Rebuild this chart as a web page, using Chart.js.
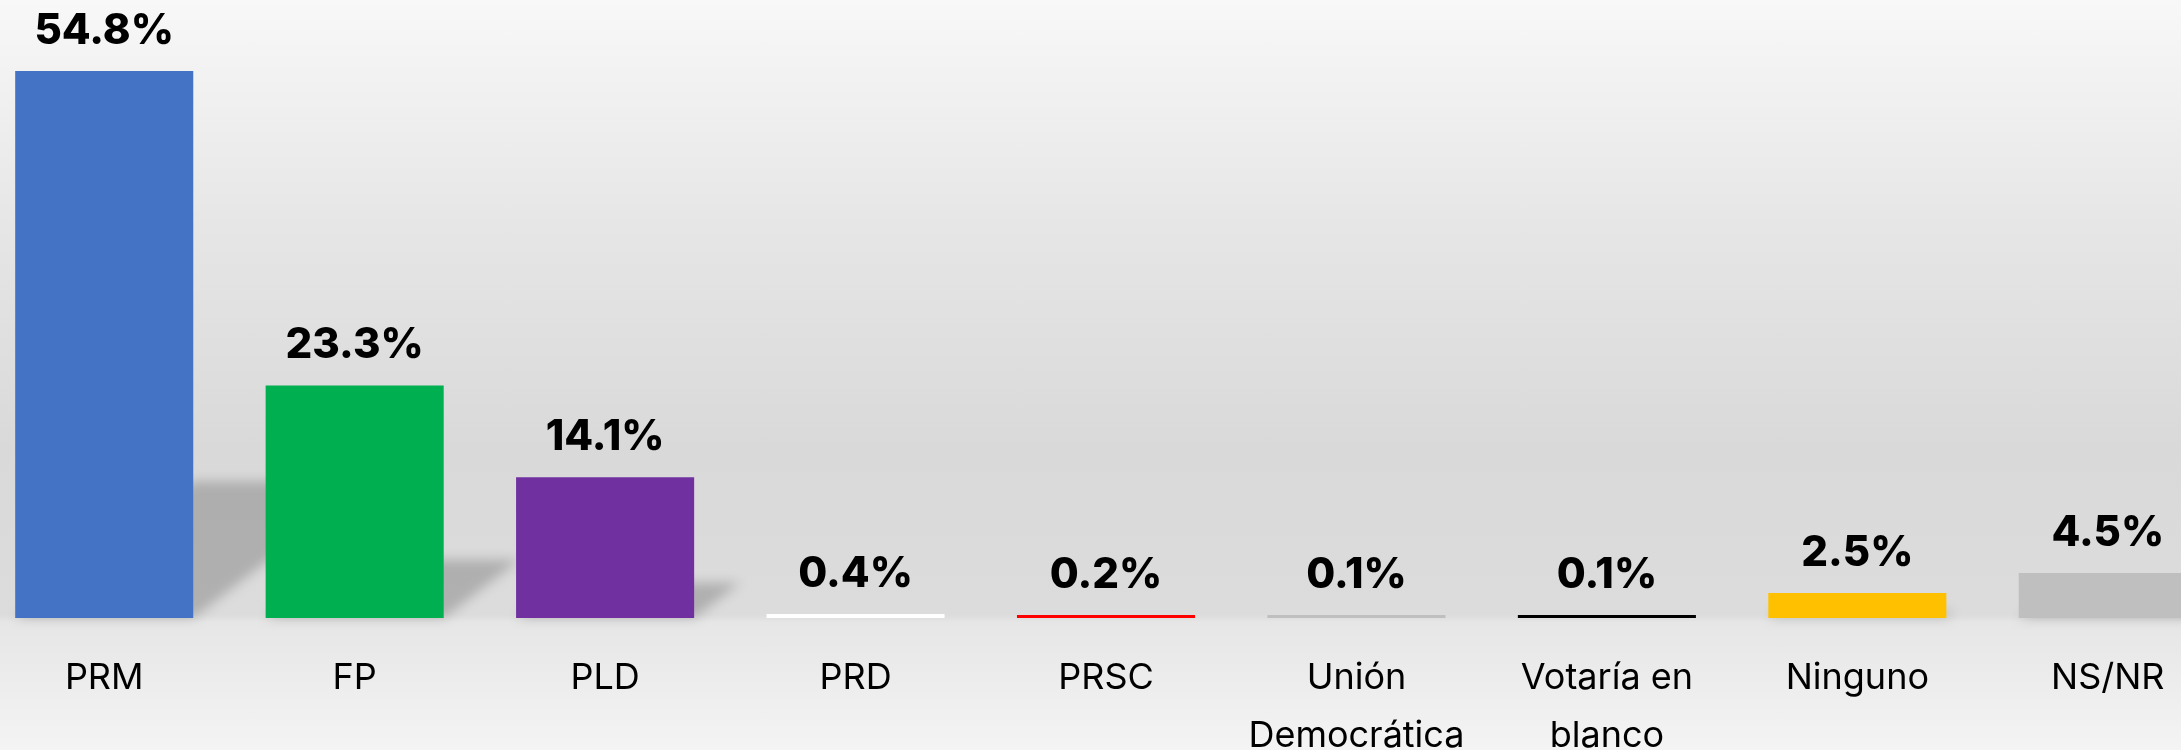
<!DOCTYPE html>
<html lang="es">
<head>
<meta charset="UTF-8">
<title>Intención de voto</title>
<script src="https://cdn.jsdelivr.net/npm/chart.js"></script>
<style>
  html, body { margin: 0; padding: 0; width: 2181px; height: 750px; overflow: hidden; }
  body {
    background: linear-gradient(to bottom, #f8f8f8 0%, #e6e6e6 30%, #d9d9d9 60%, #dcdcdc 82%, #e6e6e6 83%, #f4f4f4 100%);
    position: relative;
  }
  #wrap { position: absolute; left: -21px; top: 0; width: 2254px; height: 750px; }
</style>
</head>
<body>
<div id="wrap"><canvas id="myChart"></canvas></div>
<script>
  const partidos = ['PRM', 'FP', 'PLD', 'PRD', 'PRSC', ['Unión', 'Democrática'], ['Votaría en', 'blanco'], 'Ninguno', 'NS/NR'];
  const porcentajes = [54.8, 23.3, 14.1, 0.4, 0.2, 0.1, 0.1, 2.5, 4.5];
  const colores = ['#4472C4', '#00B050', '#7030A0', '#FFFFFF', '#FF0000', '#BFBFBF', '#000000', '#FFC000', '#BFBFBF'];

  // sombra inclinada detras de cada barra
  const shadowPlugin = {
    id: 'barShadows',
    beforeDatasetsDraw(chart) {
      const ctx = chart.ctx;
      const meta = chart.getDatasetMeta(0);
      ctx.save();
      ctx.filter = 'blur(6px)';
      ctx.fillStyle = 'rgba(0,0,0,0.2)';
      meta.data.forEach(bar => {
        const h = bar.base - bar.y;
        if (h < 8) return;
        const sh = h * 0.25;
        const d = sh * 1.3;
        const xl = bar.x - bar.width / 2;
        const xr = bar.x + bar.width / 2;
        ctx.beginPath();
        ctx.moveTo(xl, bar.base);
        ctx.lineTo(xl + d, bar.base - sh);
        ctx.lineTo(xr + d, bar.base - sh);
        ctx.lineTo(xr, bar.base);
        ctx.closePath();
        ctx.fill();
      });
      ctx.restore();
    }
  };

  const valueLabels = {
    id: 'valueLabels',
    afterDatasetsDraw(chart) {
      const ctx = chart.ctx;
      const meta = chart.getDatasetMeta(0);
      ctx.save();
      ctx.font = '800 42px Inter, sans-serif';
      ctx.fillStyle = '#000';
      ctx.textAlign = 'center';
      ctx.textBaseline = 'alphabetic';
      meta.data.forEach((bar, i) => {
        ctx.fillText(porcentajes[i].toFixed(1) + '%', bar.x, bar.y - 27);
      });
      ctx.restore();
    }
  };

  const ctx = document.getElementById('myChart').getContext('2d');
  new Chart(ctx, {
    type: 'bar',
    data: {
      labels: partidos,
      datasets: [{
        data: porcentajes,
        backgroundColor: colores,
        borderWidth: 0,
        barPercentage: 0.711,
        categoryPercentage: 1,
        minBarLength: 3
      }]
    },
    options: {
      responsive: true,
      maintainAspectRatio: false,
      animation: false,
      layout: { padding: { top: 19, left: 0, right: 0, bottom: 0 } },
      plugins: { legend: { display: false }, tooltip: { enabled: false } },
      scales: {
        y: { display: false, min: 0, max: 60 },
        x: {
          grid: { display: false, drawTicks: false },
          border: { display: false },
          ticks: {
            color: '#000',
            padding: 31,
            maxRotation: 0,
            autoSkip: false,
            font: { family: 'Inter, sans-serif', size: 36, lineHeight: 1.62 }
          },
          afterFit(scale) { scale.height = 132; }
        }
      }
    },
    plugins: [shadowPlugin, valueLabels]
  });
</script>
</body>
</html>
